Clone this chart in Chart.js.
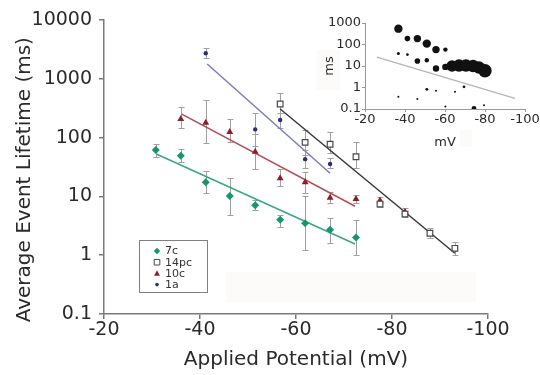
<!DOCTYPE html>
<html><head><meta charset="utf-8">
<script src="https://cdn.jsdelivr.net/npm/chart.js@4.4.1/dist/chart.umd.min.js"></script>
<style>
html,body{margin:0;padding:0;background:#fff;}
#wrap{position:relative;width:540px;height:375px;}
#wrap canvas{position:absolute;left:0;top:0;}
</style></head><body>
<div id="wrap"><canvas id="main" width="540" height="375"></canvas><canvas id="inset" width="540" height="375"></canvas></div>
<script>
// ---------- main chart data ----------
const xTickStep = 20;
const yTickValues = [0.1, 1, 10, 100, 1000, 10000];
const yTickLabels = ['0.1', '1', '10', '100', '1000', '10000'];

const mV_7c = [-30.8, -36.0, -41.2, -46.2, -51.5, -56.7, -61.9, -67.1, -72.5];
const ms_7c = [61.5, 49, 17.4, 10.2, 7.1, 4.0, 3.5, 2.7, 2.0];
const lo_7c = [46.8, 39, 11.3, 4.8, 5.9, 3.05, 1.22, 1.59, 1.0];
const hi_7c = [77.8, 63, 27, 20.8, 8.7, 4.8, 10.2, 4.34, 3.97];

const mV_14pc = [-56.7, -61.9, -67.1, -72.5, -77.5, -82.7, -87.9, -93.1];
const ms_14pc = [373, 83, 77, 47.3, 7.4, 5.0, 2.36, 1.31];
const lo_14pc = [259, 50.6, 55, 30, 6.6, 4.4, 1.94, 1.0];
const hi_14pc = [566, 135, 126, 85, 8.2, 5.7, 2.87, 1.70];

const mV_10c = [-36.0, -41.2, -46.2, -51.5, -56.7, -61.9, -67.1, -72.5, -77.5, -82.7];
const ms_10c = [207, 179, 124, 57.6, 20.3, 17.4, 9.5, 9.0, 8.5, 5.5];
const lo_10c = [144, 82, 85, 29, 15, 11.4, 7.6, 7.6, 7.6, 4.8];
const hi_10c = [331, 436, 210, 115, 29, 26, 12, 10.6, 9.6, 6.3];

const mV_1a = [-41.2, -51.5, -56.7, -61.9, -67.1];
const ms_1a = [2715, 138, 199, 43, 35.6];
const lo_1a = [2230, 72.8, 146, 30, 30];
const hi_1a = [3300, 265, 262, 61.5, 44.4];

// fitted lines (endpoints)
const fitX_7c = [-30.9, -72.3],  fitY_7c = [52.6, 1.55];
const fitX_10c = [-36.2, -72.3], fitY_10c = [250, 6.8];
const fitX_1a = [-41.5, -67.1],  fitY_1a = [1786, 24.7];
const fitX_14pc = [-56.7, -93.1], fitY_14pc = [306, 1.08];

const legendNames = ['7c', '14pc', '10c', '1a'];

// ---------- inset data ----------
const inset_mV = [-36.7, -41.2, -46.2, -50.9, -55.5, -60.2,
                  -36.7, -41.2, -46.2, -50.9, -55.5, -60.2,
                  -63.5, -67, -70.5, -74, -77, -80,
                  -36.7, -46.2, -50.9, -55.5, -60.2, -65, -69.5, -74.5, -79.5];
const inset_ms = [545, 188, 188, 110, 58, 58,
                  38, 34, 17, 18.6, 7.7, 9.1,
                  10, 10.5, 10.5, 10, 8.5, 6,
                  0.37, 0.29, 0.82, 0.7, 0.13, 0.63, 1.08, 0.107, 0.15];
const inset_size = [4.2, 2.8, 3.7, 4.2, 3.7, 2.2,
                    1.5, 1.4, 2.8, 2.2, 3.2, 3.2,
                    5.7, 6.2, 6.2, 6.2, 6.2, 6.7,
                    1, 1, 1.4, 1, 1, 1, 1.4, 2.4, 1];
const insetFitX = [-25.9, -95], insetFitY = [26, 0.31];
const insetYTicks = [0.1, 1, 10, 100, 1000];
const insetYLabels = ['0.1', '1', '10', '100', '1000'];

// ---------- helpers ----------
const FONT = "'DejaVu Sans', 'Liberation Sans', sans-serif";
Chart.defaults.font.family = FONT;
const pts = (xs, ys) => xs.map((x, i) => ({x: x, y: ys[i]}));
const C = {
  green: '#14976b', greenLine: '#3aa780',
  red: '#8e1d2d', redLine: '#b24d57',
  blue: '#2b2b88', blueLine: '#7b7bc2',
  sq: '#4a4a4a', sqLine: '#383838',
  err: '#a0a0a0', axis: '#7a7a7a', text: '#2a2a2a'
};

const errorBars = {
  id: 'errorBars',
  beforeDatasetsDraw(chart) {
    const {ctx} = chart; const xs = chart.scales.x, ys = chart.scales.y;
    ctx.save(); ctx.strokeStyle = C.err; ctx.lineWidth = 1;
    chart.data.datasets.forEach(ds => {
      if (!ds.errLo) return;
      ds.errX.forEach((xv, i) => {
        const px = Math.round(xs.getPixelForValue(xv)) + 0.5;
        const pl = Math.round(ys.getPixelForValue(ds.errLo[i])) + 0.5;
        const ph = Math.round(ys.getPixelForValue(ds.errHi[i])) + 0.5;
        ctx.beginPath();
        ctx.moveTo(px, pl); ctx.lineTo(px, ph);
        ctx.moveTo(px - 3, pl); ctx.lineTo(px + 3, pl);
        ctx.moveTo(px - 3, ph); ctx.lineTo(px + 3, ph);
        ctx.stroke();
      });
    });
    ctx.restore();
  }
};

function marker(ctx, style, x, y, r, fill, stroke) {
  ctx.save(); ctx.beginPath();
  if (style === 'rectRot') { ctx.moveTo(x, y - r); ctx.lineTo(x + r, y); ctx.lineTo(x, y + r); ctx.lineTo(x - r, y); ctx.closePath(); }
  else if (style === 'rect') { ctx.rect(x - r, y - r, 2 * r, 2 * r); }
  else if (style === 'triangle') { ctx.moveTo(x, y - r); ctx.lineTo(x + r * 0.9, y + r * 0.7); ctx.lineTo(x - r * 0.9, y + r * 0.7); ctx.closePath(); }
  else { ctx.arc(x, y, r, 0, Math.PI * 2); }
  ctx.fillStyle = fill; ctx.fill();
  if (stroke) { ctx.strokeStyle = stroke; ctx.lineWidth = 1; ctx.stroke(); }
  ctx.restore();
}

const decor = {
  id: 'decor',
  beforeDraw(chart) {
    const ctx = chart.ctx; ctx.save();
    ctx.fillStyle = 'rgba(248,230,230,0.22)';
    ctx.fillRect(226, 272, 250, 30);
    ctx.fillRect(317, 50, 23, 40);
    ctx.fillRect(460, 130, 12, 17);
    ctx.restore();
  },
  afterDraw(chart) {
    const ctx = chart.ctx; ctx.save();
    ctx.fillStyle = '#fff'; ctx.fillRect(139.5, 240.5, 68, 52);
    ctx.strokeStyle = '#808080'; ctx.lineWidth = 1; ctx.strokeRect(139.5, 240.5, 68, 52);
    const styles = [['rectRot', 3.2, C.green, null], ['rect', 2.8, '#fff', C.sq], ['triangle', 3.2, C.red, null], ['circle', 1.8, C.blue, null]];
    ctx.font = '11px ' + FONT; ctx.fillStyle = '#333'; ctx.textBaseline = 'middle';
    legendNames.forEach((n, i) => {
      const yy = 251 + i * 11.2;
      const s = styles[i];
      marker(ctx, s[0], 157, yy, s[1], s[2], s[3]);
      ctx.fillStyle = '#333';
      ctx.fillText(n, 165, yy + 0.5);
    });
    ctx.restore();
  }
};

const pointDs = (label, xs, ys, lo, hi, style, r, bg, border) => ({
  type: 'scatter', label, data: pts(xs, ys), errX: xs, errLo: lo, errHi: hi,
  pointStyle: style, pointRadius: r, pointBackgroundColor: bg,
  pointBorderColor: border || bg, pointBorderWidth: border ? 1.2 : 0, order: 1
});
const lineDs = (xs, ys, color) => ({
  type: 'scatter', data: pts(xs, ys), showLine: true, borderColor: color,
  borderWidth: 1.5, pointRadius: 0, order: 2
});

new Chart(document.getElementById('main'), {
  type: 'scatter',
  data: { datasets: [
    lineDs(fitX_7c, fitY_7c, C.greenLine),
    lineDs(fitX_10c, fitY_10c, C.redLine),
    lineDs(fitX_1a, fitY_1a, C.blueLine),
    lineDs(fitX_14pc, fitY_14pc, C.sqLine),
    pointDs('7c', mV_7c, ms_7c, lo_7c, hi_7c, 'rectRot', 4, C.green),
    pointDs('14pc', mV_14pc, ms_14pc, lo_14pc, hi_14pc, 'rect', 4, '#fff', C.sq),
    pointDs('10c', mV_10c, ms_10c, lo_10c, hi_10c, 'triangle', 4, C.red),
    pointDs('1a', mV_1a, ms_1a, lo_1a, hi_1a, 'circle', 2.2, C.blue)
  ]},
  options: {
    responsive: false, animation: false, devicePixelRatio: 1,
    layout: { padding: { left: 0, right: 52, top: 20, bottom: 0 } },
    plugins: { legend: { display: false }, tooltip: { enabled: false } },
    scales: {
      x: {
        type: 'linear', min: -100, max: -20, reverse: true,
        afterFit: s => { s.height = 61; },
        ticks: { stepSize: xTickStep, color: C.text, font: { size: 19 }, padding: 0, maxRotation: 0 },
        grid: { drawOnChartArea: false, drawTicks: true, tickLength: 5, color: C.axis, lineWidth: 1.5 },
        border: { display: true, color: C.axis, width: 1.5 },
        title: { display: true, text: 'Applied Potential (mV)', color: C.text, font: { size: 20 }, padding: { top: 0, bottom: 3 } }
      },
      y: {
        type: 'logarithmic', min: 0.1, max: 10000,
        afterFit: s => { s.width = 104; },
        afterBuildTicks: s => { s.ticks = yTickValues.map(v => ({ value: v })); },
        ticks: { color: C.text, font: { size: 19 }, padding: 7,
          callback: v => { const i = yTickValues.findIndex(t => Math.abs(t - v) / t < 1e-6); return i >= 0 ? yTickLabels[i] : ''; } },
        grid: { drawOnChartArea: false, drawTicks: true, tickLength: 5, color: C.axis, lineWidth: 1.5 },
        border: { display: true, color: C.axis, width: 1.5 },
        title: { display: true, text: 'Average Event Lifetime (ms)    ', color: C.text, font: { size: 20 }, padding: { top: 13, bottom: 0 } }
      }
    }
  },
  plugins: [decor, errorBars]
});

// ---------- inset ----------
new Chart(document.getElementById('inset'), {
  type: 'scatter',
  data: { datasets: [
    { type: 'bubble', data: inset_mV.map((x, i) => ({ x: x, y: inset_ms[i], r: inset_size[i] })),
      backgroundColor: '#111', borderWidth: 0, order: 1 },
    { type: 'scatter', data: pts(insetFitX, insetFitY), showLine: true, borderColor: '#b5b5b5', borderWidth: 1.2, pointRadius: 0, order: 2 }
  ]},
  options: {
    responsive: false, animation: false, devicePixelRatio: 1,
    layout: { padding: { left: 320, right: 15, top: 23, bottom: 225 } },
    plugins: { legend: { display: false }, tooltip: { enabled: false } },
    scales: {
      x: {
        type: 'linear', min: -100, max: -20, reverse: true,
        afterFit: s => { s.height = 41; },
        ticks: { stepSize: 20, color: C.text, font: { size: 13 }, padding: 0, maxRotation: 0 },
        grid: { drawOnChartArea: false, drawTicks: true, tickLength: 3, color: '#999', lineWidth: 1 },
        border: { display: true, color: '#999', width: 1 },
        title: { display: true, text: 'mV', color: C.text, font: { size: 13 }, padding: { top: 0, bottom: 0 } }
      },
      y: {
        type: 'logarithmic', min: 0.1, max: 1000,
        afterFit: s => { s.width = 45; },
        afterBuildTicks: s => { s.ticks = insetYTicks.map(v => ({ value: v })); },
        ticks: { color: C.text, font: { size: 13 }, padding: 1,
          callback: v => { const i = insetYTicks.findIndex(t => Math.abs(t - v) / t < 1e-6); return i >= 0 ? insetYLabels[i] : ''; } },
        grid: { drawOnChartArea: false, drawTicks: true, tickLength: 3, color: '#999', lineWidth: 1 },
        border: { display: true, color: '#999', width: 1 },
        title: { display: true, text: 'ms', color: C.text, font: { size: 13 }, padding: { top: 2, bottom: 0 } }
      }
    }
  }
});
</script></body></html>
